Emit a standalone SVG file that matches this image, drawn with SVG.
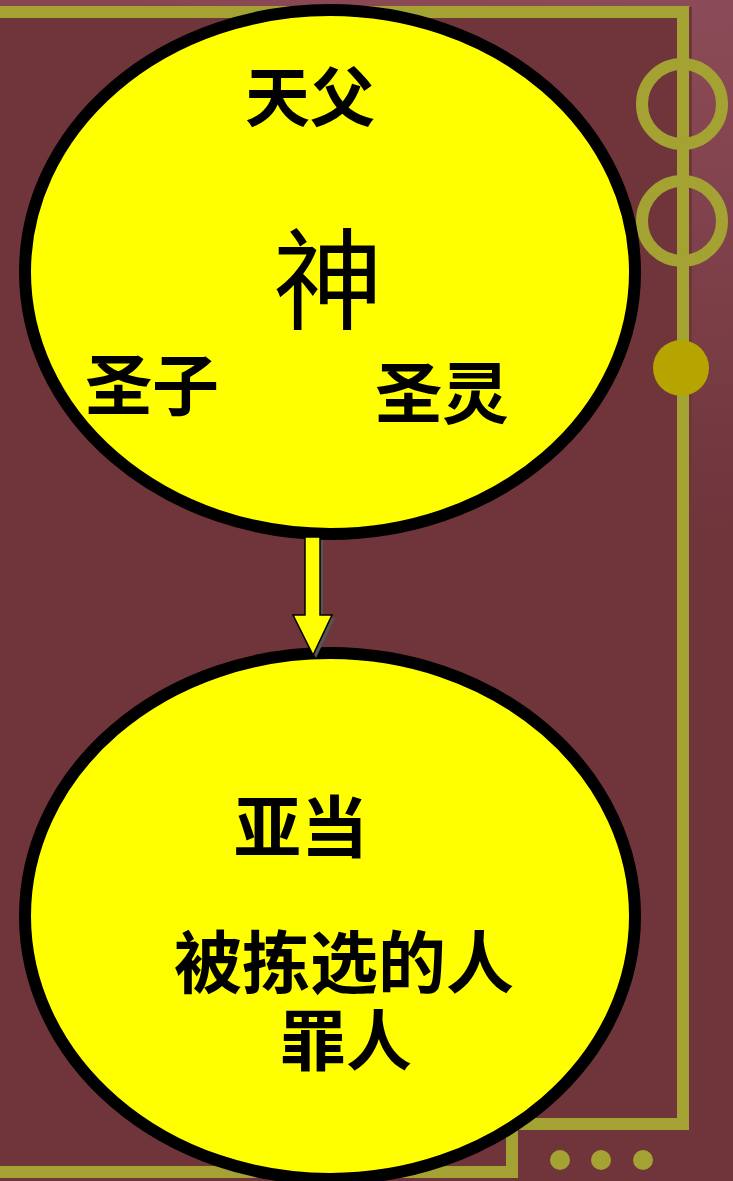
<svg xmlns="http://www.w3.org/2000/svg" width="733" height="1181" viewBox="0 0 733 1181">
<style>
.bg{fill:#6f353b}
.gold{fill:none;stroke:#a4a233;stroke-width:12}
.node{fill:#ffff00;stroke:#000;stroke-width:12}
.t{font-family:"Noto Sans CJK SC","Noto Sans CJK TC",sans-serif;fill:#000;text-anchor:middle}
.b{font-weight:bold}
</style>
<defs>
<linearGradient id="side" x1="0" y1="0" x2="0" y2="1">
<stop offset="0" stop-color="#8c4b58"/>
<stop offset="0.45" stop-color="#6f353b"/>
<stop offset="1" stop-color="#6f353b"/>
</linearGradient>
<linearGradient id="top" x1="0" y1="0" x2="1" y2="0">
<stop offset="0" stop-color="#86454f"/>
<stop offset="1" stop-color="#8c4b58"/>
</linearGradient>
</defs>
<g id="background">
<rect class="bg" x="0" y="0" width="733" height="1181"/>
<rect x="0" y="0" width="733" height="7" fill="url(#top)"/>
<rect x="692" y="0" width="41" height="1181" fill="url(#side)"/>
<path class="gold" d="M0 12 H683 V1124 H512 V1172 H0"/>
<circle class="gold" cx="682" cy="104" r="40"/>
<circle class="gold" cx="682" cy="221" r="40"/>
<circle cx="681" cy="368" r="28" fill="#b6a400"/>
<circle cx="560" cy="1160" r="10" fill="#a4a233"/>
<circle cx="601" cy="1160" r="10" fill="#a4a233"/>
<circle cx="643" cy="1160" r="10" fill="#a4a233"/>
</g>
<g id="node-god">
<ellipse class="node" cx="330" cy="272" rx="305" ry="262"/>
<text class="t b" x="310" y="121" font-size="65">天父</text>
<text class="t" x="328" y="321" font-size="110">神</text>
<text class="t b" x="152" y="410" font-size="67">圣子</text>
<text class="t b" x="442" y="418" font-size="67">圣灵</text>
</g>
<g id="node-adam">
<ellipse class="node" cx="330" cy="916" rx="305" ry="263"/>
<text class="t b" x="301" y="852" font-size="67">亚当</text>
<text class="t b" x="344" y="988" font-size="68">被拣选的人</text>
<text class="t b" x="346" y="1065" font-size="66">罪人</text>
</g>
<g id="connectors">
<path d="M308 540 H323 V618 H335 L316 658 L296 618 H308 Z" fill="#555"/>
<path d="M305 537 H320 V615 H332 L313 655 L293 615 H305 Z" fill="#ffff00" stroke="#000" stroke-width="1.5"/>
</g>
</svg>
